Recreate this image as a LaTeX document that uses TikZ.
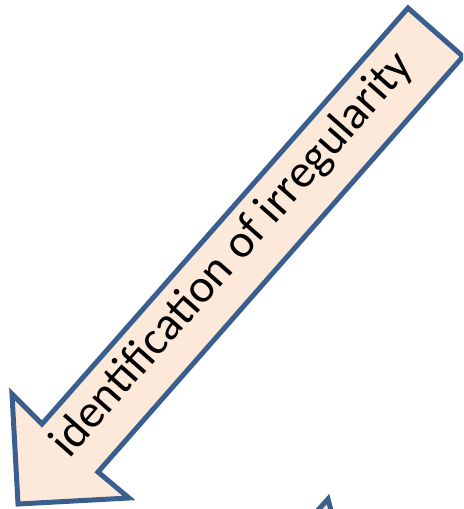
\documentclass[tikz,border=0pt]{standalone}
\usepackage{fontspec}
\setmainfont{Carlito}
\definecolor{arrowline}{HTML}{3A5F8F}
\definecolor{arrowfill}{HTML}{FDE9DA}
\begin{document}
\begin{tikzpicture}[x=0.5pt,y=-0.5pt,
  bigarrow/.style={draw=arrowline, fill=arrowfill, line width=2.5pt, line join=miter},
  arrowtext/.style={font=\fontsize{23.5pt}{28pt}\selectfont, text=black, inner sep=0pt, anchor=base, rotate=48.65}]
\useasboundingbox (0,0) rectangle (463,509);
\clip (0,0) rectangle (463,509);
% main arrow pointing down-left
\draw[bigarrow] (408,8) -- (463,56.5) -- (98,472) -- (129,498) -- (18,504) -- (12,394) -- (42,424) -- cycle;
\node[arrowtext] (label) at (241.6,263.1) {identification of irregularity};
% tip of a second arrow at the bottom edge
\draw[bigarrow] (311,518) -- (328,499) -- (333,518);
\end{tikzpicture}
\end{document}
